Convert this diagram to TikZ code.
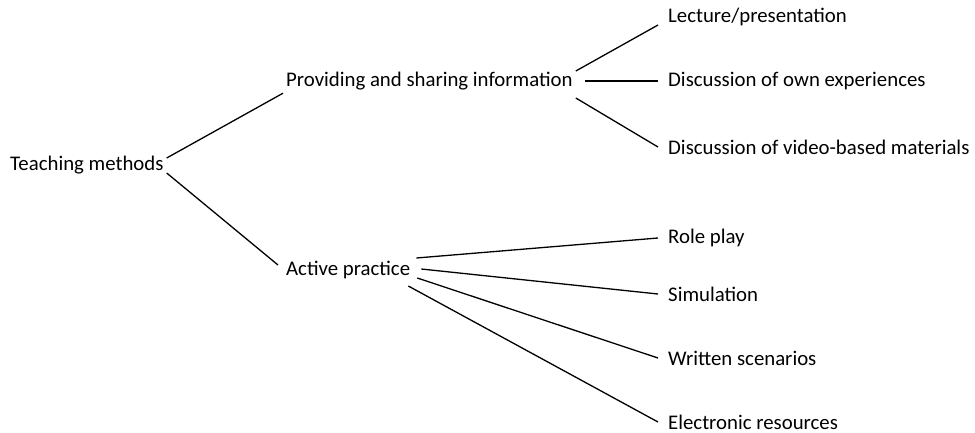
\documentclass[tikz,border=0pt]{standalone}
\usepackage{fontspec}
\setmainfont{Carlito}

\begin{document}
\begin{tikzpicture}[x=1pt, y=-1pt,
        item/.style = {anchor=west, inner sep=3pt, font=\fontsize{20.8}{25}\selectfont},
        leaf/.style = {item, inner xsep=10pt},
        branch/.style = {line width=1.3pt}]
            \useasboundingbox (0,0) rectangle (975,432);

                % Levels:
                \node[item] (tm) at (7,165) {Teaching methods};
                \node[item] (prov) at (283,81) {Providing and sharing information};
                \node[item] (act) at (283,270) {Active practice};

                \node[leaf] (lect) at (658,17) {Lecture/presentation};
                \node[leaf] (own) at (658,81) {Discussion of own experiences};
                \node[leaf] (vid) at (658,147) {Discussion of video-based materials};
                \node[leaf] (role) at (658,238) {Role play};
                \node[leaf] (sim) at (658,294) {Simulation};
                \node[leaf] (writ) at (658,358) {Written scenarios};
                \node[leaf] (elec) at (658,422) {Electronic resources};

                % Branches:
                \draw[branch] ([yshift=7pt]tm.east) -- (prov.south west);
                \draw[branch] ([yshift=-8pt]tm.east) -- ([xshift=-5pt,yshift=5pt]act.west);

                \draw[branch] ([yshift=10pt]prov.east) -- ([yshift=-8pt]lect.west);
                \draw[branch] ([xshift=9pt]prov.east) -- (own.west);
                \draw[branch] ([yshift=-17pt]prov.east) -- (vid.west);

                \draw[branch] ([xshift=3pt,yshift=12pt]act.east) -- (role.west);
                \draw[branch] ([xshift=8pt,yshift=1pt]act.east) -- (sim.west);
                \draw[branch] ([xshift=4pt,yshift=-8pt]act.east) -- (writ.west);
                \draw[branch] ([xshift=-5pt,yshift=-16pt]act.east) -- (elec.west);
            \end{tikzpicture}
\end{document}
